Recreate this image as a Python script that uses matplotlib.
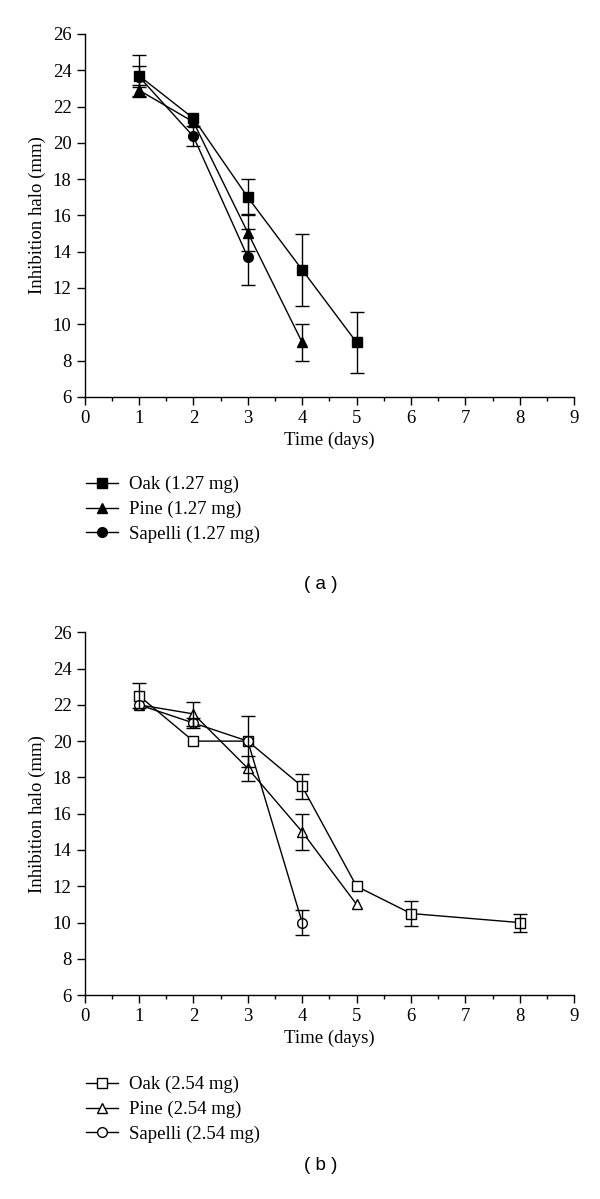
import matplotlib
matplotlib.use("Agg")
from matplotlib import pyplot as plt
from matplotlib.ticker import MultipleLocator

# panel (a): 1.27 mg
oak_a_x = [1, 2, 3, 4, 5]
oak_a_y = [23.7, 21.35, 17.0, 13.0, 9.0]
oak_a_err = [1.15, 0.0, 1.0, 2.0, 1.7]

pine_a_x = [1, 2, 3, 4]
pine_a_y = [22.9, 21.15, 15.05, 9.0]
pine_a_err = [0.3, 0.0, 1.0, 1.0]

sap_a_x = [1, 2, 3]
sap_a_y = [23.65, 20.35, 13.7]
sap_a_err = [0.6, 0.55, 1.55]

# panel (b): 2.54 mg
oak_b_x = [1, 2, 3, 4, 5, 6, 8]
oak_b_y = [22.5, 20.0, 20.0, 17.5, 12.0, 10.5, 10.0]
oak_b_err = [0.7, 0.0, 0.0, 0.7, 0.0, 0.7, 0.5]

pine_b_x = [1, 2, 3, 4, 5]
pine_b_y = [22.0, 21.5, 18.5, 15.0, 11.0]
pine_b_err = [0.0, 0.65, 0.7, 1.0, 0.0]

sap_b_x = [1, 2, 3, 4]
sap_b_y = [22.0, 21.0, 20.0, 10.0]
sap_b_err = [0.0, 0.3, 1.4, 0.7]

plt.rcParams['font.family'] = ['Liberation Serif', 'DejaVu Serif']
plt.rcParams['font.size'] = 13.5

fig = plt.figure(figsize=(6, 11.99), dpi=100)
ax_a = fig.add_axes([0.141, 0.669, 0.816, 0.3027])
ax_b = fig.add_axes([0.141, 0.170, 0.816, 0.3027])


def draw_series(ax, x, y, err, marker, filled, label):
    face = 'black' if filled else 'white'
    ms = 7 if marker == 'o' else 6.5
    ax.plot(x, y, color='black', lw=1.0, marker=marker, ms=ms,
            mfc=face, mec='black', mew=1.0, label=label, zorder=2)
    # skip points without a visible error bar
    ex = [a for a, e in zip(x, err) if e > 0]
    ey = [b for b, e in zip(y, err) if e > 0]
    ee = [e for e in err if e > 0]
    ax.errorbar(ex, ey, yerr=ee, fmt='none', ecolor='black', elinewidth=1.0,
                capsize=5, capthick=1.0, zorder=3)


def style_axes(ax):
    ax.set_xlim(0, 9)
    ax.set_ylim(6, 26)
    ax.xaxis.set_major_locator(MultipleLocator(1))
    ax.xaxis.set_minor_locator(MultipleLocator(0.5))
    ax.yaxis.set_major_locator(MultipleLocator(2))
    for s in ['top', 'right']:
        ax.spines[s].set_visible(False)
    for s in ['left', 'bottom']:
        ax.spines[s].set_linewidth(1.0)
    ax.tick_params(which='major', direction='out', length=5.5, width=1.0, pad=4)
    ax.tick_params(which='minor', direction='out', length=3, width=1.0)
    ax.set_xlabel('Time (days)', labelpad=3)
    ax.set_ylabel('Inhibition halo (mm)', labelpad=5)


draw_series(ax_a, oak_a_x, oak_a_y, oak_a_err, 's', True, 'Oak (1.27 mg)')
draw_series(ax_a, pine_a_x, pine_a_y, pine_a_err, '^', True, 'Pine (1.27 mg)')
draw_series(ax_a, sap_a_x, sap_a_y, sap_a_err, 'o', True, 'Sapelli (1.27 mg)')
style_axes(ax_a)

draw_series(ax_b, oak_b_x, oak_b_y, oak_b_err, 's', False, 'Oak (2.54 mg)')
draw_series(ax_b, pine_b_x, pine_b_y, pine_b_err, '^', False, 'Pine (2.54 mg)')
draw_series(ax_b, sap_b_x, sap_b_y, sap_b_err, 'o', False, 'Sapelli (2.54 mg)')
style_axes(ax_b)

for ax, ytop in [(ax_a, 1 - 476 / 1199), (ax_b, 1 - 1076 / 1199)]:
    ax.legend(loc='upper left', bbox_to_anchor=(0.143, ytop),
              bbox_transform=fig.transFigure, frameon=False, borderpad=0,
              borderaxespad=0, handlelength=1.7, handletextpad=0.6,
              labelspacing=0.4, fontsize=13.5)

fig.text(0.535, 1 - 585 / 1199, '( a )', ha='center', va='center',
         family='Liberation Sans', fontsize=13.5)
fig.text(0.535, 1 - 1166 / 1199, '( b )', ha='center', va='center',
         family='Liberation Sans', fontsize=13.5)

fig.savefig('out.png', dpi=100)
